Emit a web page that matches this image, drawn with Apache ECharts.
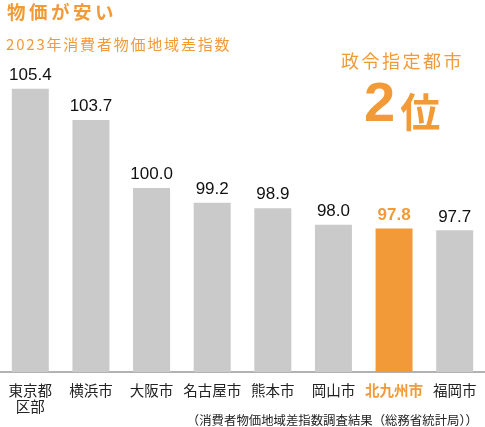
<!DOCTYPE html>
<html><head><meta charset="utf-8">
<script src="https://cdn.jsdelivr.net/npm/echarts@6/dist/echarts.min.js"></script>
<style>html,body{margin:0;padding:0;background:#fff}#c{width:485px;height:427px}</style>
</head><body><div id="c"></div>
<script>
const categories = ['東京都\n区部','横浜市','大阪市','名古屋市','熊本市','岡山市','北九州市','福岡市'];
const values = [105.4, 103.7, 100.0, 99.2, 98.9, 98.0, 97.8, 97.7];
const highlight = '北九州市';
const ORANGE = '#f29a38';
const GRAY = '#c9cac9';
const CJK = '"Noto Sans CJK JP", sans-serif';
const NUM = '"Liberation Sans", Arial, sans-serif';

function spaced(text, name) {
  return Array.from(text).map(ch => '{' + name + '|' + ch + '}').join('');
}

const chart = echarts.init(document.getElementById('c'));
chart.setOption({
  animation: false,
  grid: {left: 0, right: 0, top: 77.6, bottom: 55, containLabel: false},
  title: [
    {text: spaced('物価が安い', 't'), left: 2, top: -2, textStyle: {fontWeight: 'bold', rich: {
      t: {fontFamily: CJK, fontSize: 18.5, fontWeight: 'bold', color: ORANGE, padding: [0, 3.5, 0, 0]}}}},
    {text: spaced('2023年消費者物価地域差指数', 's'), left: 1, top: 32, textStyle: {fontWeight: 'normal', rich: {
      s: {fontFamily: CJK, fontSize: 15, fontWeight: 'normal', color: ORANGE, padding: [0, 1.8, 0, 0]}}}},
    {text: spaced('政令指定都市', 'r'), left: 336, top: 47, textStyle: {fontWeight: 'normal', rich: {
      r: {fontFamily: CJK, fontSize: 18, fontWeight: 'normal', color: ORANGE, padding: [0, 2.5, 0, 0]}}}},
    {text: '{a|2}{b|位}', left: 359, top: 73, textStyle: {fontWeight: 'bold', rich: {
      a: {fontFamily: NUM, fontSize: 56, fontWeight: 'bold', color: ORANGE, verticalAlign: 'bottom'},
      b: {fontFamily: CJK, fontSize: 40, fontWeight: 'bold', color: ORANGE, verticalAlign: 'bottom', padding: [0,0,2,5]}
    }}},
    {text: '（消費者物価地域差指数調査結果（総務省統計局））', right: 2, top: 409, textStyle: {fontFamily: CJK, fontSize: 12.4, fontWeight: 'normal', color: '#222'}}
  ],
  xAxis: {
    type: 'category', data: categories,
    axisLine: {lineStyle: {color: '#999', width: 1.5}},
    axisTick: {show: false},
    axisLabel: {
      margin: 10, interval: 0,
      formatter: v => v === highlight ? '{h|' + v + '}' : '{n|' + v.split('\n').join('}\n{n|') + '}',
      rich: {
        n: {fontFamily: CJK, fontSize: 14.5, color: '#222', lineHeight: 16},
        h: {fontFamily: CJK, fontSize: 14.5, color: ORANGE, fontWeight: 'bold', lineHeight: 16}
      }
    }
  },
  yAxis: {type: 'value', min: 90, max: 106, show: false, splitLine: {show: false}},
  series: [{
    type: 'bar', barWidth: 37,
    data: values.map((v, i) => categories[i] === highlight ? {
      value: v, itemStyle: {color: ORANGE},
      label: {color: ORANGE, fontWeight: 'bold'}
    } : {value: v}),
    itemStyle: {color: GRAY},
    label: {show: true, position: 'top', distance: 5, fontFamily: NUM, fontSize: 17, color: '#111',
      formatter: p => p.value.toFixed(1)}
  }]
});
</script></body></html>
